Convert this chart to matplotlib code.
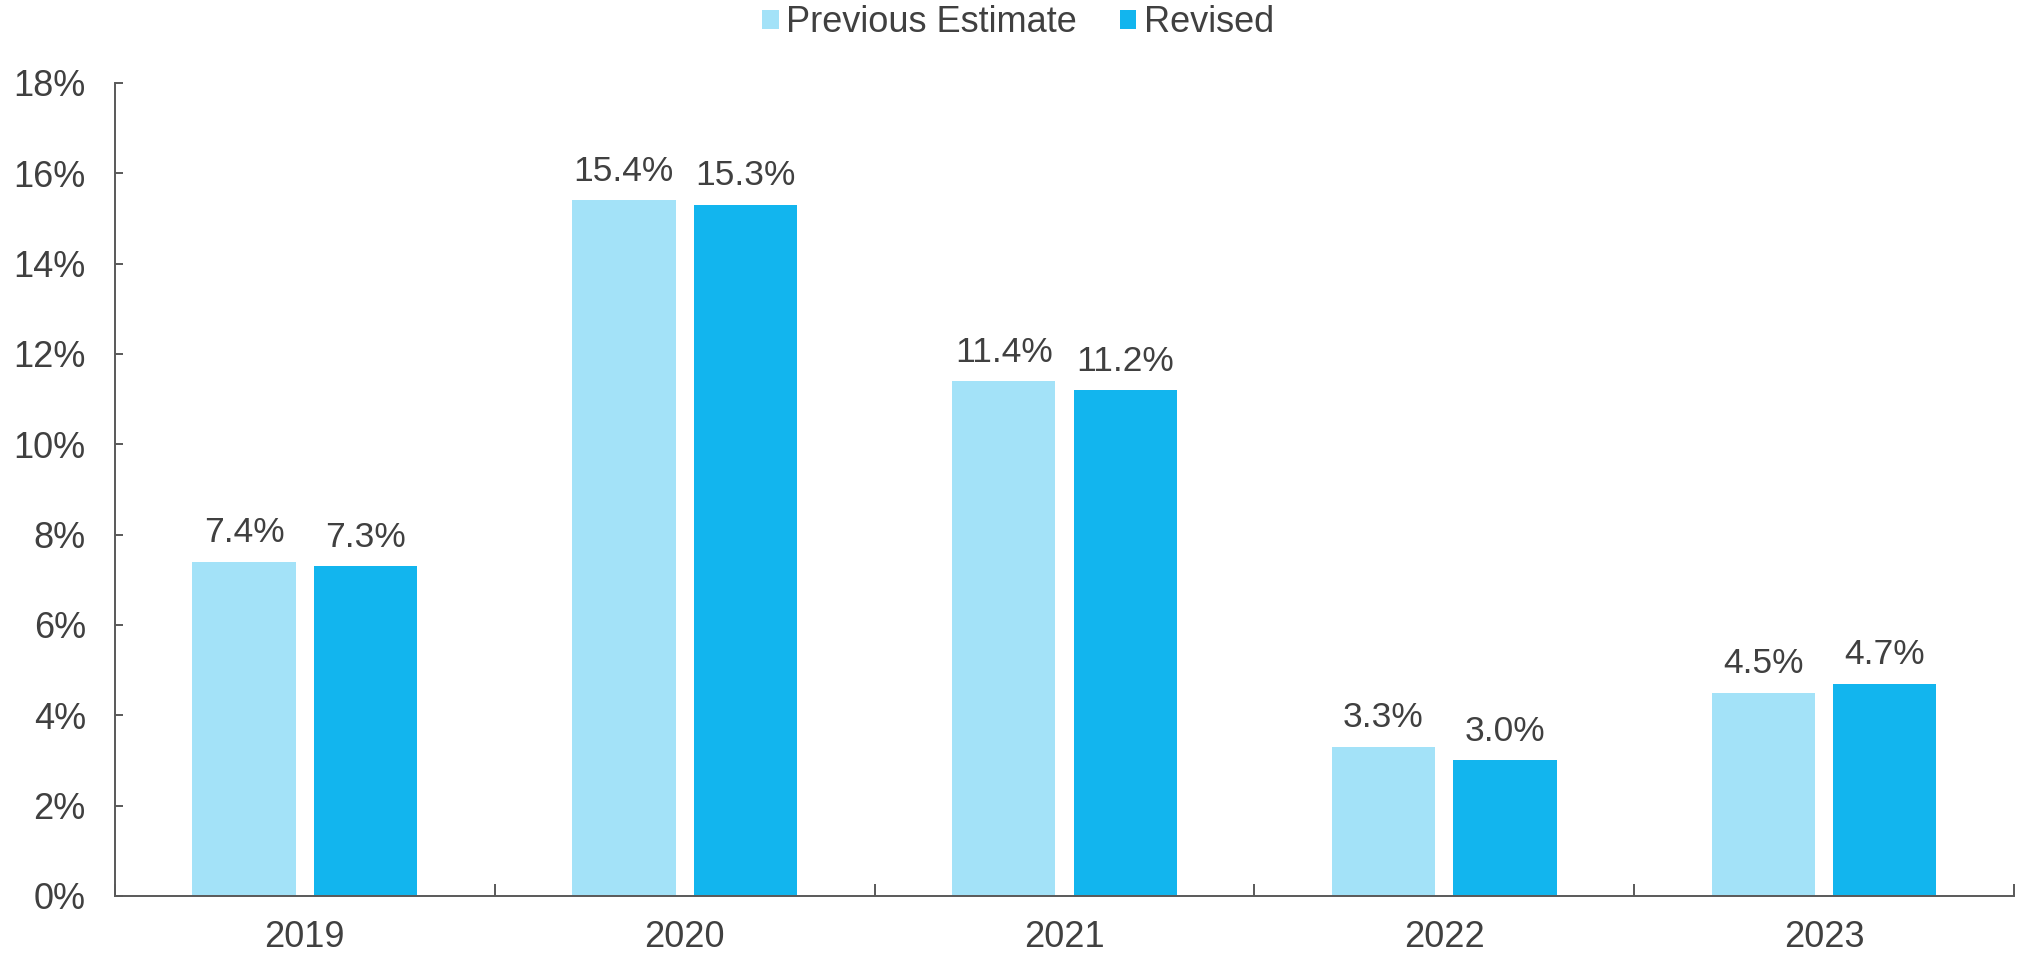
import matplotlib.pyplot as plt
import numpy as np

# growth estimates by year, in percent
years = ['2019', '2020', '2021', '2022', '2023']
previous = [7.4, 15.4, 11.4, 3.3, 4.5]
revised = [7.3, 15.3, 11.2, 3.0, 4.7]

c_prev = '#A3E2F8'
c_rev = '#12B5EE'
txt = '#404040'

plt.rcParams['font.family'] = ['Liberation Sans', 'DejaVu Sans']

fig = plt.figure(figsize=(20.24, 9.56), dpi=100)
ax = fig.add_axes([0.0568, 0.0628, 0.9382, 0.8504])

x = np.arange(len(years))
w = 0.272
off = 0.16
b1 = ax.bar(x - off, previous, w, color=c_prev, label='Previous Estimate')
b2 = ax.bar(x + off, revised, w, color=c_rev, label='Revised')

for bars, vals in ((b1, previous), (b2, revised)):
    for b, v in zip(bars, vals):
        ax.annotate('%.1f%%' % v, (b.get_x() + b.get_width() / 2, v),
                    xytext=(0, 9), textcoords='offset points',
                    ha='center', va='bottom', fontsize=25.5, color=txt)

ax.set_xlim(-0.5, len(years) - 0.5)
ax.set_ylim(0, 18)
ax.set_yticks(np.arange(0, 19, 2))
ax.set_yticklabels(['%d%%' % v for v in range(0, 19, 2)])

# category boundaries get the tick marks, year labels sit in between
ax.set_xticks(np.arange(-0.5, len(years), 1))
ax.set_xticklabels([])
ax.set_xticks(x, minor=True)
ax.set_xticklabels(years, minor=True)
ax.tick_params(axis='x', which='major', direction='in', length=9, width=1.4, color='#595959')
ax.tick_params(axis='x', which='minor', length=0, pad=17, labelsize=26, labelcolor=txt)
ax.tick_params(axis='y', direction='in', length=6, width=1.4, color='#595959',
               pad=21, labelsize=26, labelcolor=txt)

for s in ('top', 'right'):
    ax.spines[s].set_visible(False)
for s in ('left', 'bottom'):
    ax.spines[s].set_color('#595959')
    ax.spines[s].set_linewidth(1.4)

fig.legend(loc='center', bbox_to_anchor=(0.503, 1 - 23 / 956), ncol=2, frameon=False,
           fontsize=26, labelcolor=txt, handlelength=0.45, handleheight=0.45,
           handletextpad=0.2, columnspacing=1.2)

fig.savefig('out.png', dpi=100)
